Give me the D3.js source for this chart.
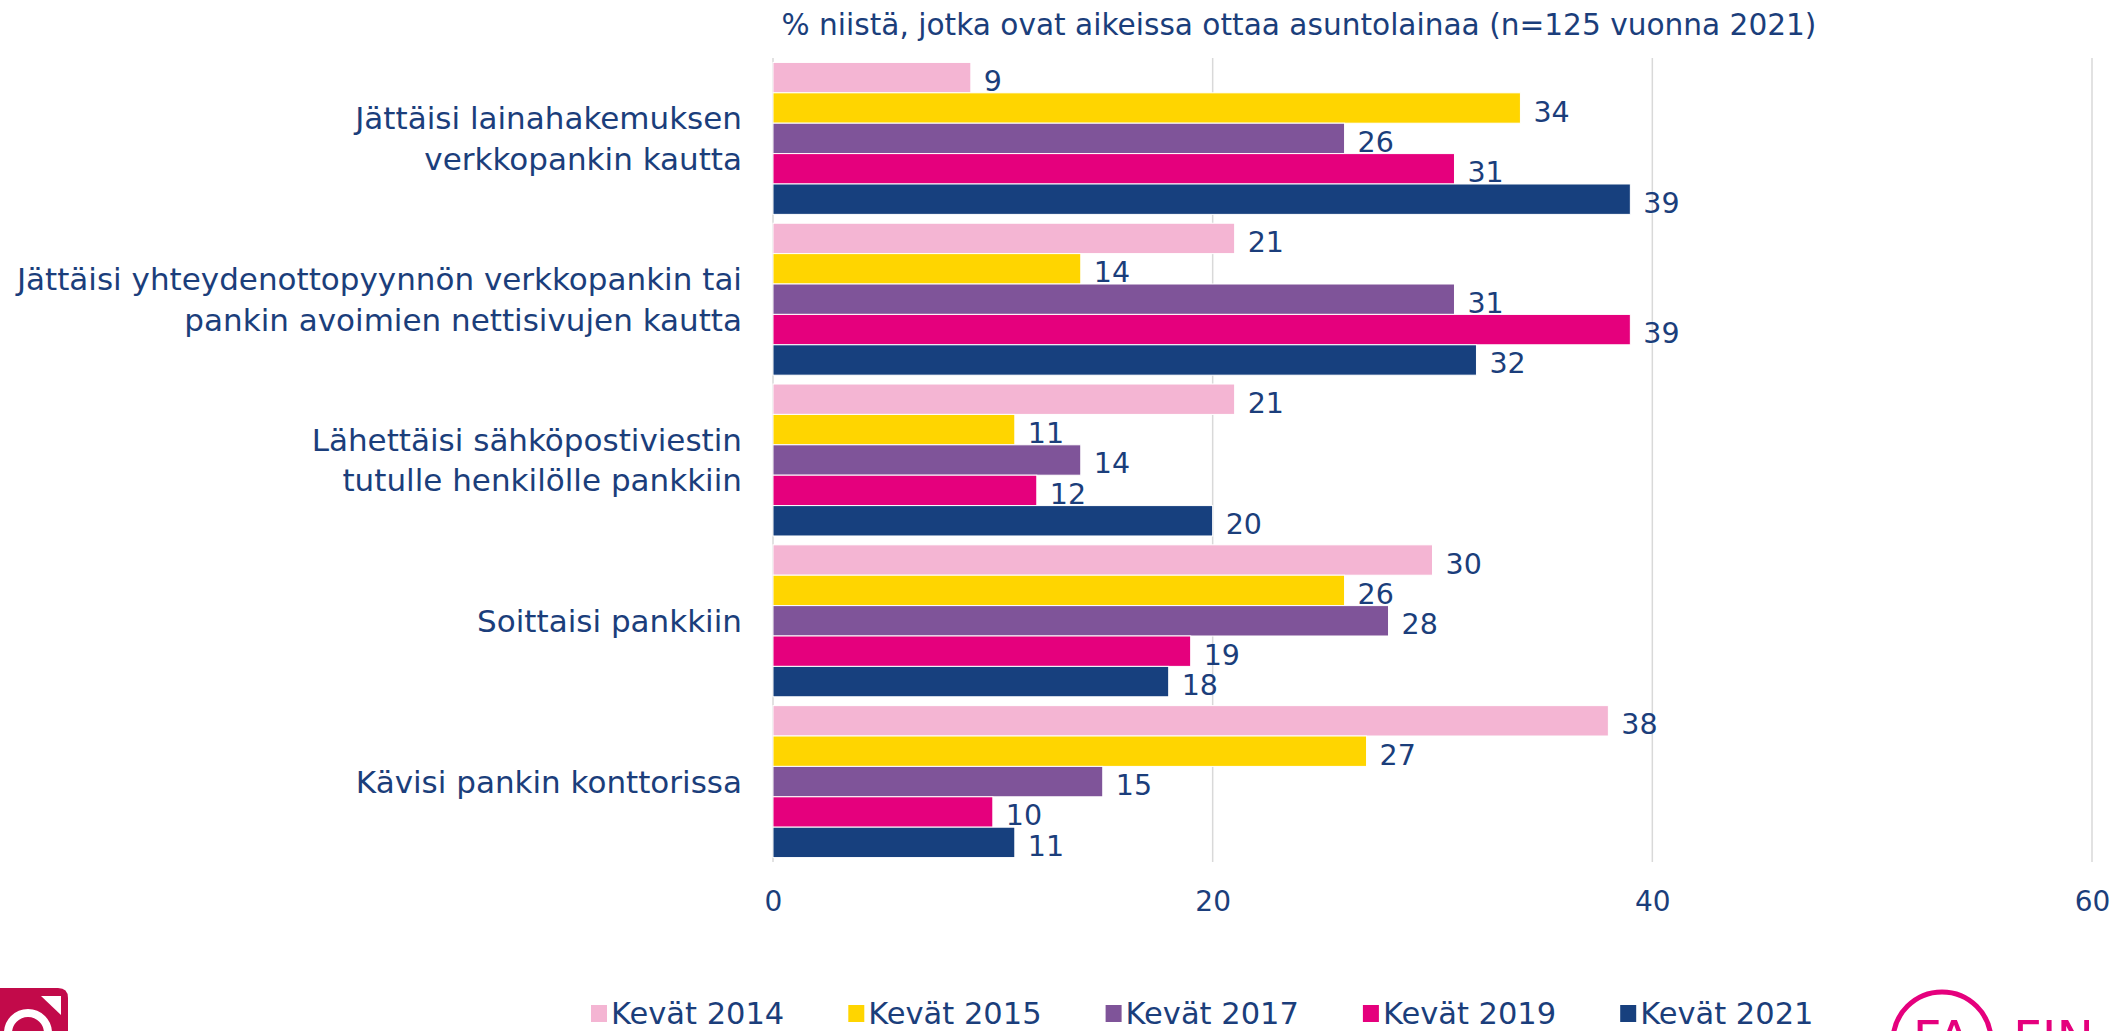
<!DOCTYPE html>
<html>
<head>
<meta charset="utf-8">
<script src="https://cdn.jsdelivr.net/npm/d3@7"></script>
<style>
  body { margin: 0; background: #fff; }
  svg { display: block; font-family: "DejaVu Sans", "Open Sans", sans-serif; }
</style>
</head>
<body>
<div id="chart"></div>
<script>
// Data
const categories = [
  ["Jättäisi lainahakemuksen", "verkkopankin kautta"],
  ["Jättäisi yhteydenottopyynnön verkkopankin tai", "pankin avoimien nettisivujen kautta"],
  ["Lähettäisi sähköpostiviestin", "tutulle henkilölle pankkiin"],
  ["Soittaisi pankkiin"],
  ["Kävisi pankin konttorissa"]
];
const seriesNames = ["Kevät 2014", "Kevät 2015", "Kevät 2017", "Kevät 2019", "Kevät 2021"];
const kevat2014 = [9, 21, 21, 30, 38];
const kevat2015 = [34, 14, 11, 26, 27];
const kevat2017 = [26, 31, 14, 28, 15];
const kevat2019 = [31, 39, 12, 19, 10];
const kevat2021 = [39, 32, 20, 18, 11];
const seriesValues = [kevat2014, kevat2015, kevat2017, kevat2019, kevat2021];
const xTicks = [0, 20, 40, 60];
const title = "% niistä, jotka ovat aikeissa ottaa asuntolainaa (n=125 vuonna 2021)";

const colors = ["#f4b5d3", "#ffd500", "#7f5499", "#e5007d", "#17407e"];
const textColor = "#1b3e7b";

const width = 2126, height = 1031;

const svg = d3.select("#chart").append("svg")
    .attr("width", width)
    .attr("height", height);

// scales
const x = d3.scaleLinear().domain([0, 60]).range([773, 2092]);
const y = d3.scaleBand()
    .domain(d3.range(categories.length))
    .range([58, 862])
    .paddingInner(0.055)
    .paddingOuter(0.0275);
const ySub = d3.scaleBand()
    .domain(d3.range(seriesNames.length))
    .range([0, y.bandwidth()]);

// title
svg.append("text")
    .attr("x", 1299)
    .attr("y", 35)
    .attr("text-anchor", "middle")
    .attr("fill", textColor)
    .attr("font-size", 29.6)
    .text(title);

// gridlines
svg.append("g")
    .selectAll("line")
    .data(xTicks)
    .join("line")
    .attr("x1", d => x(d))
    .attr("x2", d => x(d))
    .attr("y1", 58)
    .attr("y2", 862)
    .attr("stroke", "#d9d9d9")
    .attr("stroke-width", 1.5);

// x axis
const xAxis = svg.append("g")
    .attr("transform", "translate(0,862)")
    .call(d3.axisBottom(x).tickValues(xTicks).tickSize(0).tickPadding(29));
xAxis.select(".domain").remove();
xAxis.selectAll("text")
    .attr("fill", textColor)
    .attr("font-size", 28)
    .attr("font-family", "'DejaVu Sans', 'Open Sans', sans-serif");

// bars
const groups = svg.append("g")
    .selectAll("g")
    .data(categories)
    .join("g")
    .attr("transform", (d, i) => `translate(0,${y(i)})`);

groups.selectAll("rect")
    .data((d, i) => seriesValues.map((s, j) => ({ s: j, v: s[i] })))
    .join("rect")
    .attr("x", x(0))
    .attr("y", d => ySub(d.s))
    .attr("width", d => x(d.v) - x(0))
    .attr("height", ySub.bandwidth())
    .attr("fill", d => colors[d.s])
    .attr("stroke", "#fff")
    .attr("stroke-width", 1);

groups.selectAll("text.val")
    .data((d, i) => seriesValues.map((s, j) => ({ s: j, v: s[i] })))
    .join("text")
    .attr("class", "val")
    .attr("x", d => x(d.v) + 13)
    .attr("y", d => ySub(d.s) + ySub.bandwidth() / 2 + 4)
    .attr("dominant-baseline", "central")
    .attr("fill", textColor)
    .attr("font-size", 28.5)
    .text(d => d.v);

// category labels
const lineH = 40.7;
groups.append("text")
    .attr("text-anchor", "end")
    .attr("fill", textColor)
    .attr("font-size", 31)
    .selectAll("tspan")
    .data(d => d.map((t, k) => ({ t, k, n: d.length })))
    .join("tspan")
    .attr("x", 742)
    .attr("y", d => y.bandwidth() / 2 + (d.k - (d.n - 1) / 2) * lineH)
    .attr("dominant-baseline", "central")
    .text(d => d.t);

// legend
const legend = svg.append("g")
    .selectAll("g")
    .data(seriesNames)
    .join("g")
    .attr("transform", (d, i) => `translate(${591 + i * 257.3},1011)`);
legend.append("rect")
    .attr("x", 0)
    .attr("y", -6)
    .attr("width", 16)
    .attr("height", 17)
    .attr("fill", (d, i) => colors[i]);
legend.append("text")
    .attr("x", 20)
    .attr("y", 2)
    .attr("dominant-baseline", "central")
    .attr("fill", textColor)
    .attr("font-size", 30.5)
    .text(d => d);

// logos (cropped at the bottom edge)
const logoL = svg.append("g");
logoL.append("path")
    .attr("d", "M0,988 H58 Q68,988 68,998 V1031 H0 Z")
    .attr("fill", "#c20a4a");
logoL.append("path")
    .attr("d", "M41,996 H61 V1015 Z")
    .attr("fill", "#fff");
logoL.append("circle")
    .attr("cx", 28)
    .attr("cy", 1033)
    .attr("r", 20)
    .attr("fill", "none")
    .attr("stroke", "#fff")
    .attr("stroke-width", 8);

const logoR = svg.append("g");
logoR.append("circle")
    .attr("cx", 1942)
    .attr("cy", 1041)
    .attr("r", 49)
    .attr("fill", "none")
    .attr("stroke", "#e5007d")
    .attr("stroke-width", 5);
logoR.append("text")
    .attr("x", 1942)
    .attr("y", 1056)
    .attr("text-anchor", "middle")
    .attr("fill", "#e5007d")
    .attr("font-size", 50)
    .text("FA");
logoR.append("text")
    .attr("x", 2013)
    .attr("y", 1056)
    .attr("fill", "#e5007d")
    .attr("font-size", 50)
    .text("FIN");
</script>
</body>
</html>
